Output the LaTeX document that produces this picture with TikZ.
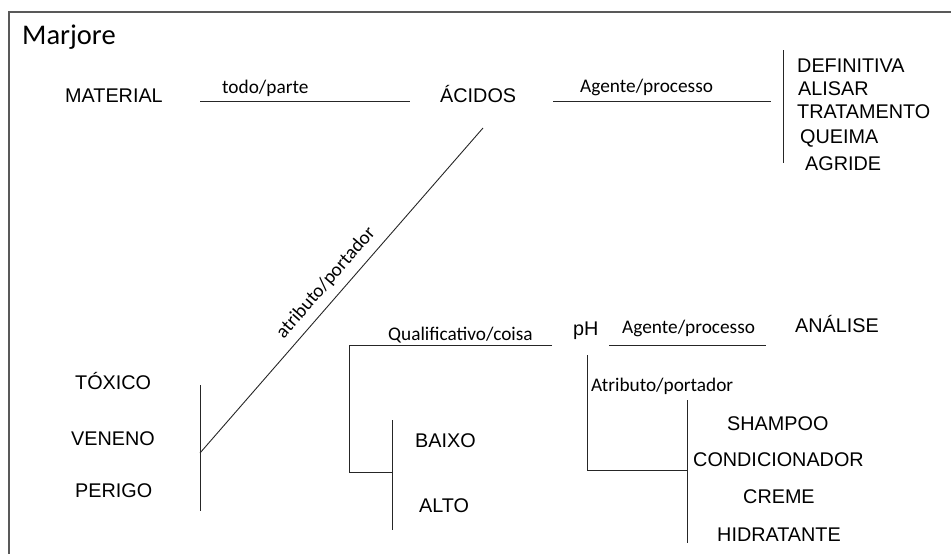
\documentclass[tikz,border=0pt]{standalone}
\usepackage{fontspec}
\setmainfont{Liberation Sans}
\newfontfamily\calib{Carlito}
\begin{document}
\begin{tikzpicture}[x=1pt,y=-1pt,
  term/.style={anchor=base west,inner sep=0pt,font=\fontsize{19.8}{22}\selectfont},
  rel/.style={anchor=base west,inner sep=0pt,font=\calib\fontsize{19.3}{22}\selectfont},
  conn/.style={line width=0.9pt,draw=black!85}]
\useasboundingbox (0,0) rectangle (951,554);
\draw[line width=1.2pt,draw=black!65] (9,554) -- (9,12) -- (951,12);
\node[anchor=base west,inner sep=0pt,font=\calib\fontsize{28.5}{32}\selectfont] (title) at (22,44) {Marjore};
% top row
\node[term] (material) at (65,102) {MATERIAL};
\node[rel] (todo) at (222,93) {todo/parte};
\node[term] (acidos) at (440,102) {ÁCIDOS};
\node[rel] (agente1) at (580,92) {Agente/processo};
\coordinate (l1a) at (200,101); \coordinate (l1b) at (410,101);
\coordinate (l2a) at (553,101); \coordinate (l2b) at (771,101);
\draw[conn] (l1a) -- (l1b);
\draw[conn] (l2a) -- (l2b);
\coordinate (v1a) at (783,50); \coordinate (v1b) at (783,163);
\draw[conn] (v1a) -- (v1b);
\node[term] (definitiva) at (797,72) {DEFINITIVA};
\node[term] (alisar) at (798,95) {ALISAR};
\node[term] (tratamento) at (797,118) {TRATAMENTO};
\node[term] (queima) at (800,143) {QUEIMA};
\node[term] (agride) at (805,170) {AGRIDE};
% diagonal
\coordinate (dTop) at (483,128); \coordinate (dBot) at (200,453);
\draw[conn] (dTop) -- (dBot);
\node[rel,anchor=center,rotate=49] (atrib1) at (326,283) {atributo/portador};
\coordinate (v2a) at (200,385); \coordinate (v2b) at (200,511);
\draw[conn] (v2a) -- (v2b);
\node[term] (toxico) at (75,389) {TÓXICO};
\node[term] (veneno) at (71,445) {VENENO};
\node[term] (perigo) at (75,497) {PERIGO};
% qualificativo
\node[rel] (qualif) at (388,340) {Qualificativo/coisa};
\coordinate (q1) at (552,345); \coordinate (q2) at (349,345);
\coordinate (q3) at (349,472); \coordinate (q4) at (392,472);
\draw[conn] (q1) -- (q2) -- (q3) -- (q4);
\coordinate (v3a) at (392,420); \coordinate (v3b) at (392,530);
\draw[conn] (v3a) -- (v3b);
\node[term] (baixo) at (415,447) {BAIXO};
\node[term] (alto) at (419,512) {ALTO};
% pH
\node[term] (ph) at (573,335) {pH};
\node[rel] (agente2) at (622,333) {Agente/processo};
\coordinate (l3a) at (609,345); \coordinate (l3b) at (766,345);
\draw[conn] (l3a) -- (l3b);
\node[term] (analise) at (795,332) {ANÁLISE};
\coordinate (p1) at (587,355); \coordinate (p2) at (587,470); \coordinate (p3) at (687,470);
\draw[conn] (p1) -- (p2) -- (p3);
\node[rel] (atrib2) at (591,391) {Atributo/portador};
\coordinate (v4a) at (687,400); \coordinate (v4b) at (687,543);
\draw[conn] (v4a) -- (v4b);
\node[term] (shampoo) at (727,430) {SHAMPOO};
\node[term] (condic) at (693,466) {CONDICIONADOR};
\node[term] (creme) at (743,503) {CREME};
\node[term] (hidrat) at (717,541) {HIDRATANTE};
\end{tikzpicture}
\end{document}
